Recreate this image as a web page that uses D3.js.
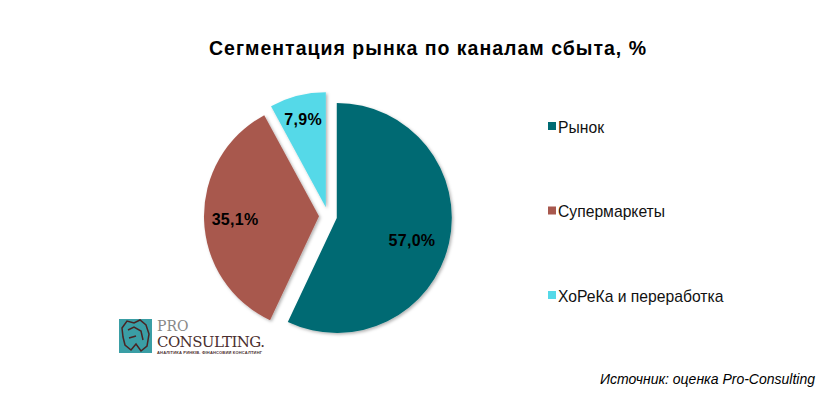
<!DOCTYPE html>
<html>
<head>
<meta charset="utf-8">
<script src="https://cdn.jsdelivr.net/npm/d3@7"></script>
<style>
  body { margin: 0; background: #fff; }
  text { font-family: Arial, "Liberation Sans", sans-serif; }
</style>
</head>
<body>
<div id="chart"></div>
<script>

var categories = ['Рынок', 'Супермаркеты', 'ХоРеКа и переработка'];
var values = [57.0, 35.1, 7.9];
var colors = ['#006b73', '#a8584e', '#55d9e8'];

var settings = {
  width: 831,
  height: 394,
  cx: 328,
  cy: 216,
  radius: 115,
  explode: 9
};

var svg = d3.select('#chart').append('svg')
  .attr('width', settings.width)
  .attr('height', settings.height);

var defs = svg.append('defs');
var shadow = defs.append('filter').attr('id', 'shadow')
  .attr('x', '-20%').attr('y', '-20%').attr('width', '140%').attr('height', '140%');
shadow.append('feDropShadow')
  .attr('dx', 1.5).attr('dy', 1.5).attr('stdDeviation', 1.5)
  .attr('flood-color', '#000').attr('flood-opacity', 0.3);

svg.append('text')
  .attr('x', 209)
  .attr('y', 55)
  .attr('textLength', 437)
  .attr('lengthAdjust', 'spacing')
  .style('font-size', '19.5px')
  .style('font-weight', 'bold')
  .text('Сегментация рынка по каналам сбыта, %');

var data = categories.map(function(c, i) { return { label: c, val: values[i], color: colors[i] }; });

var pie = d3.pie().sort(null).value(function(d) { return d.val; });
var arc = d3.arc().innerRadius(0).outerRadius(settings.radius);

var arcs = pie(data);

var slices = svg.append('g')
  .attr('transform', 'translate(' + settings.cx + ',' + settings.cy + ')')
  .selectAll('g')
  .data(arcs)
  .enter()
  .append('g')
  .attr('transform', function(d) {
    var a = (d.startAngle + d.endAngle) / 2;
    return 'translate(' + settings.explode * Math.sin(a) + ',' + (-settings.explode * Math.cos(a)) + ')';
  });

slices.append('path')
  .attr('d', arc)
  .attr('fill', function(d) { return d.data.color; })
  .attr('filter', 'url(#shadow)');

// label positions as fraction of radius, plus a small vertical nudge
var labelRadius = [0.67, 0.73, 0.8];
var labelNudge = [6, 1, 1];
slices.append('text')
  .attr('x', function(d, i) { var a = (d.startAngle + d.endAngle) / 2; return settings.radius * labelRadius[i] * Math.sin(a); })
  .attr('y', function(d, i) { var a = (d.startAngle + d.endAngle) / 2; return -settings.radius * labelRadius[i] * Math.cos(a) + labelNudge[i]; })
  .attr('dy', '0.35em')
  .attr('text-anchor', 'middle')
  .style('font-size', '16px')
  .style('font-weight', 'bold')
  .style('letter-spacing', '0.3px')
  .text(function(d) { return d3.format('.1f')(d.data.val).replace('.', ',') + '%'; });

var legendY = d3.scalePoint().domain(categories).range([127, 296]);

var legend = svg.append('g').selectAll('g')
  .data(data)
  .enter()
  .append('g')
  .attr('transform', function(d) { return 'translate(548,' + legendY(d.label) + ')'; });

legend.append('rect')
  .attr('x', 0).attr('y', -5)
  .attr('width', 8).attr('height', 8)
  .attr('fill', function(d) { return d.color; });

legend.append('text')
  .attr('x', 10)
  .attr('dy', '0.35em')
  .style('font-size', '15.7px')
  .attr('fill', '#111')
  .text(function(d) { return d.label; });

svg.append('text')
  .attr('x', 815)
  .attr('y', 384)
  .attr('text-anchor', 'end')
  .style('font-size', '14px')
  .style('font-style', 'italic')
  .text('Источник: оценка Pro-Consulting');

// logo
var logo = svg.append('g');
logo.append('rect')
  .attr('x', 119).attr('y', 319).attr('width', 33).attr('height', 34)
  .attr('fill', '#3a9ea5');
logo.append('path')
  .attr('d', 'M122,328 L127,321 L134,323 L140,320 L146,325 L149,334 L147,346 L141,351 L136,344 L131,350 L125,345 L123,337 Z M128,330 L134,327 L141,331 L143,340 M129,338 L136,336')
  .attr('fill', 'none')
  .attr('stroke', '#4a2424')
  .attr('stroke-width', 1.5);
logo.append('text')
  .attr('x', 157).attr('y', 331)
  .style('font-family', '"DejaVu Serif", "Liberation Serif", serif')
  .style('font-size', '14px')
  .attr('fill', '#888')
  .text('PRO');
logo.append('text')
  .attr('x', 157).attr('y', 347)
  .style('font-family', '"DejaVu Serif", "Liberation Serif", serif')
  .style('font-size', '15px')
  .attr('textLength', 108)
  .attr('fill', '#4a2e2e')
  .text('CONSULTING.');
logo.append('text')
  .attr('x', 157).attr('y', 353.5)
  .style('font-size', '4px')
  .style('font-weight', 'bold')
  .attr('textLength', 105)
  .attr('fill', '#4a2e2e')
  .text('АНАЛІТИКА РИНКІВ. ФІНАНСОВИЙ КОНСАЛТИНГ');

</script>
</body>
</html>
